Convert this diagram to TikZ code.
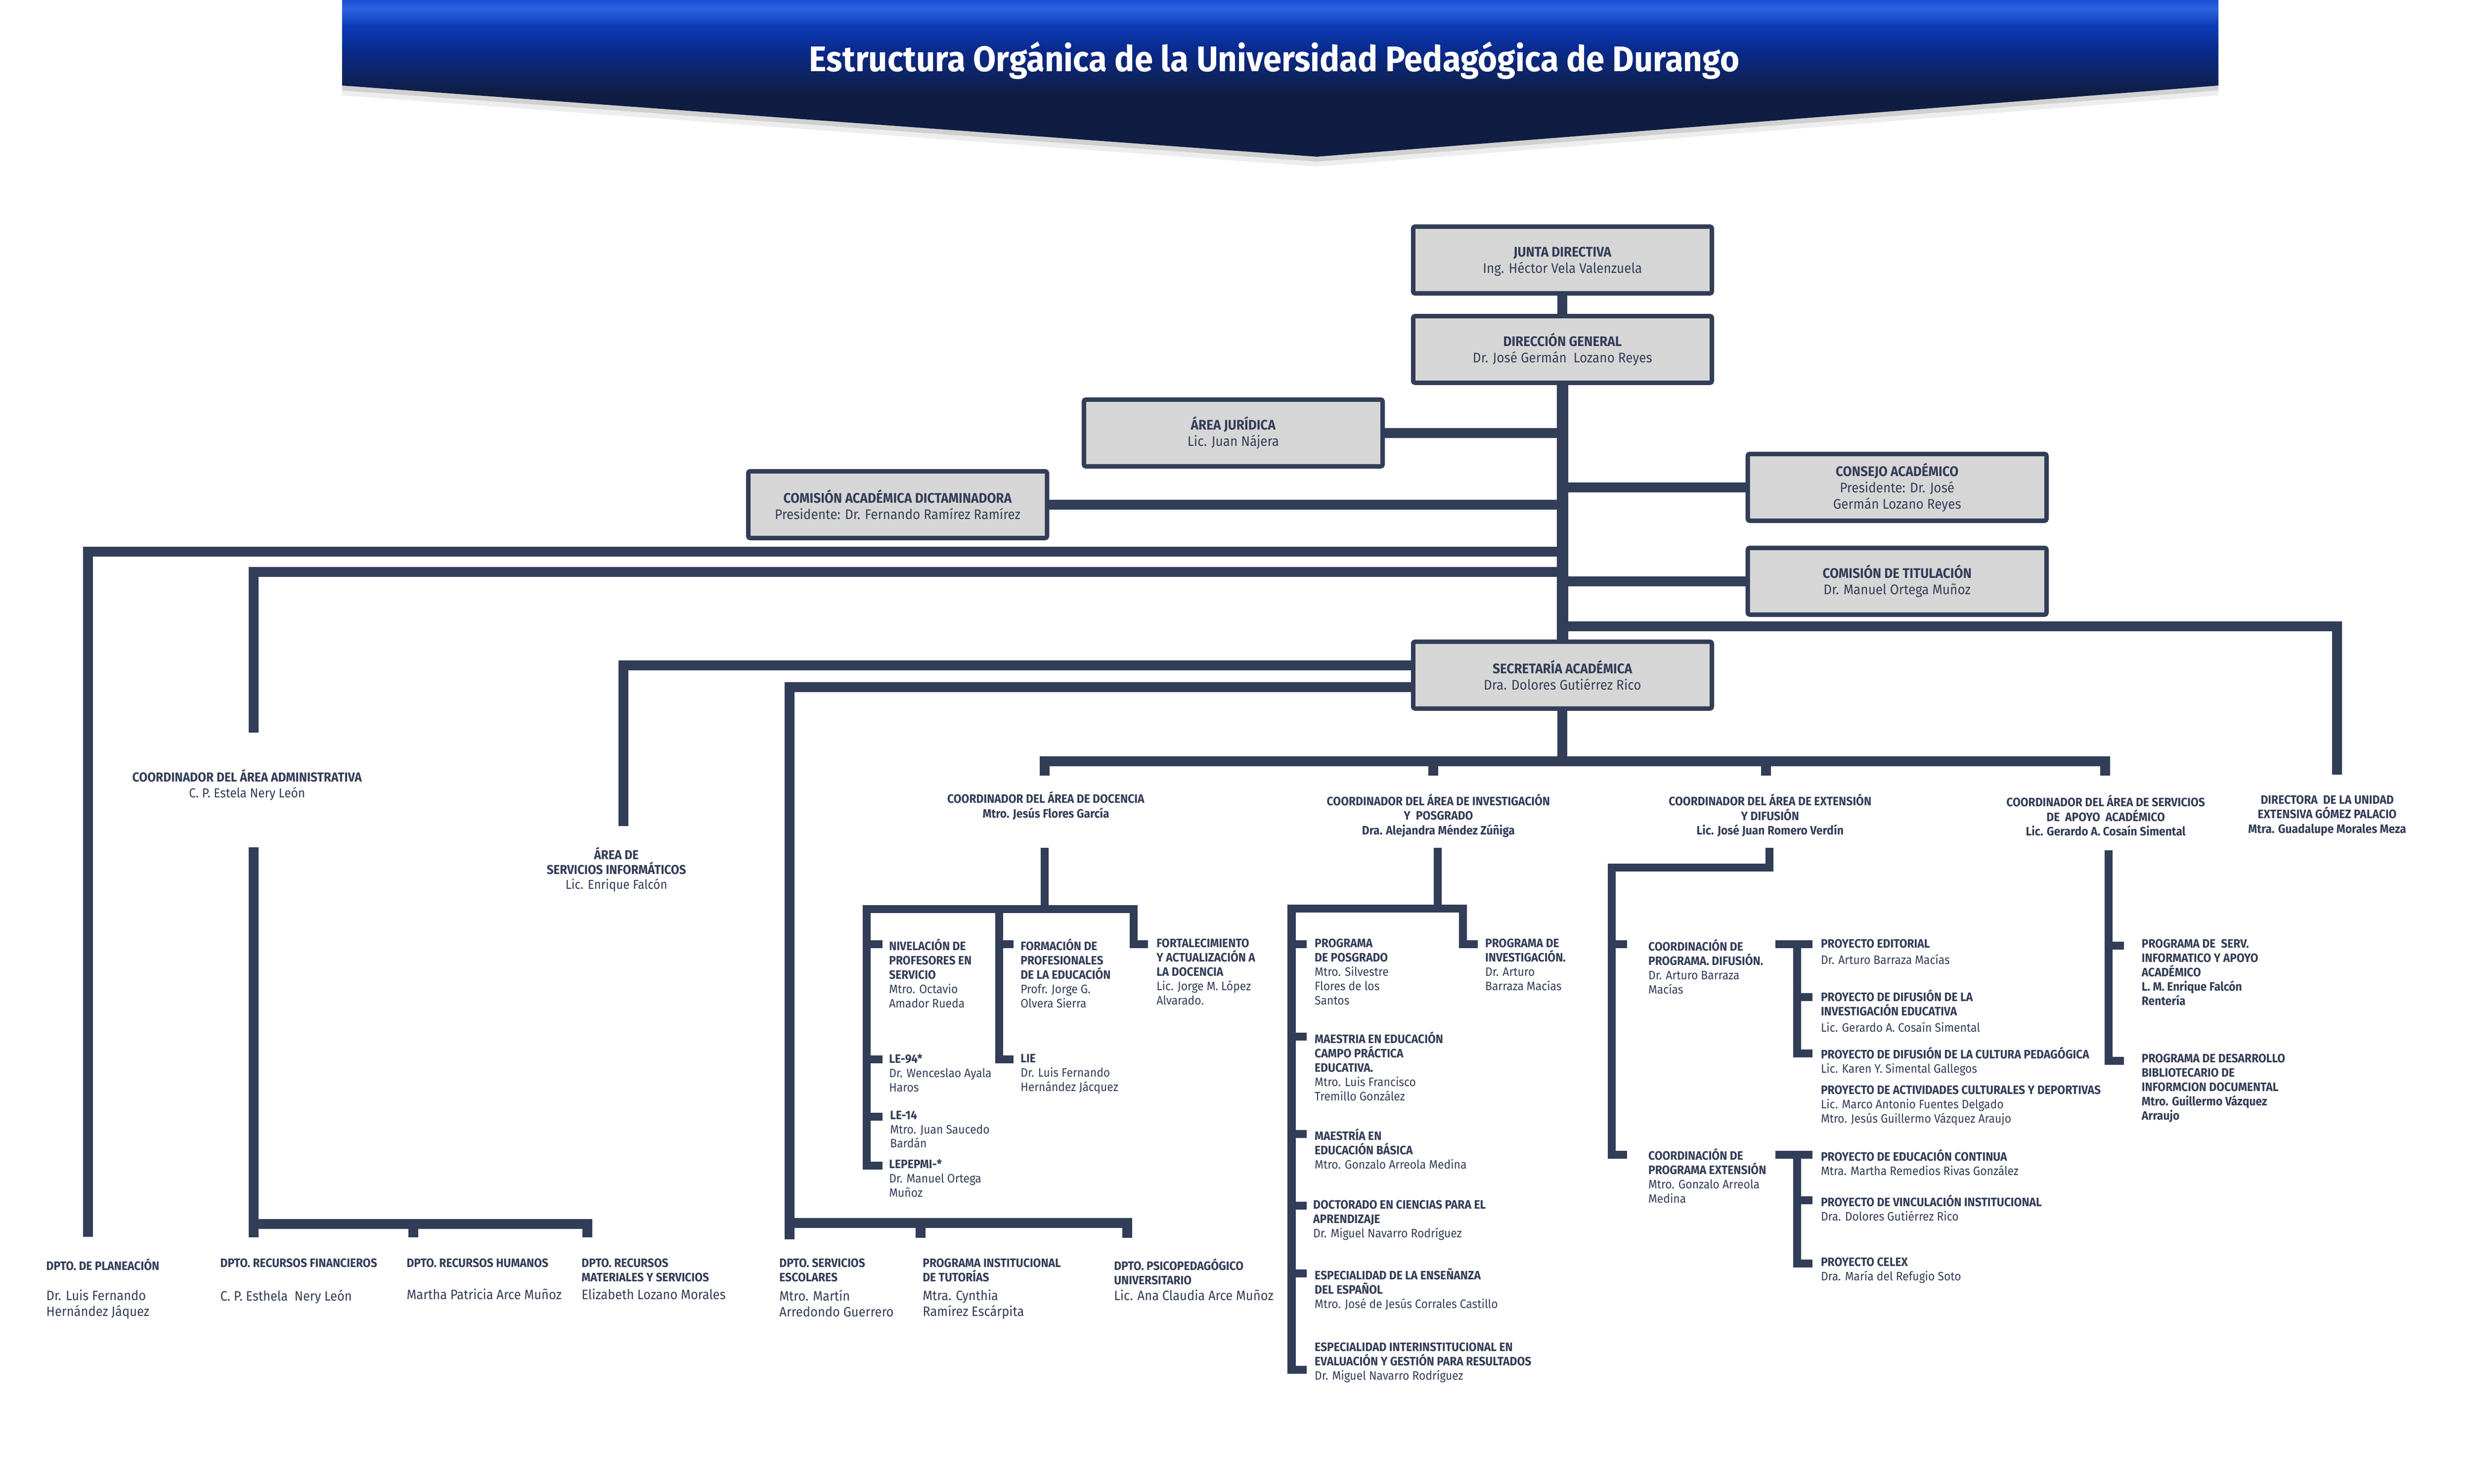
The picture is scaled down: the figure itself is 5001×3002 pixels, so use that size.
\documentclass[tikz,border=0pt]{standalone}
\usepackage{fontspec}
\setmainfont{Fira Sans}[FakeStretch=0.93]

\definecolor{navy}{RGB}{50,61,87}
\definecolor{boxgray}{RGB}{214,214,214}
\definecolor{bannertop}{RGB}{26,79,214}
\definecolor{bannerlight}{RGB}{44,99,223}
\definecolor{bannerblue}{RGB}{12,60,185}
\definecolor{bannermid}{RGB}{10,42,140}
\definecolor{bannerdeep}{RGB}{14,36,98}
\definecolor{bannerbot}{RGB}{16,29,66}

\pgfdeclareverticalshading{titleshade}{100bp}{color(0bp)=(bannerbot); color(45bp)=(bannerbot); color(51bp)=(bannerdeep); color(59bp)=(bannermid); color(67bp)=(bannerblue); color(72bp)=(bannerlight); color(75bp)=(bannertop); color(100bp)=(bannertop)}

\begin{document}
\begin{tikzpicture}[
        x = 0.01cm, y = -0.01cm, % one unit per pixel, y downwards
        line join = miter,
        orgbox/.style = {draw=navy, fill=boxgray, line width=0.09cm, rounded corners=0.04cm,
            minimum width=6.04cm, minimum height=1.35cm, inner sep=0pt, align=center,
            text=navy, font=\fontsize{8}{9.4}\selectfont},
        coordtext/.style = {inner sep=0pt, align=center, text=navy, font=\fontsize{7}{8.4}\selectfont},
        progtext/.style = {inner sep=0pt, align=left, anchor=north west, text=navy, font=\fontsize{7}{8.2}\selectfont},
        nametext/.style = {progtext, font=\fontsize{7.8}{9.2}\selectfont},
        mainline/.style = {draw=navy, line width=0.2cm},
        subline/.style = {draw=navy, line width=0.16cm}
    ]

    \useasboundingbox (0,0) rectangle (5001,3002);

    % title banner
    \fill[black, opacity=0.07] (692,20) -- (4488,20) -- (4488,193) -- (2664,337) -- (692,193) -- cycle;
    \fill[black, opacity=0.12] (692,10) -- (4488,10) -- (4488,183) -- (2664,327) -- (692,183) -- cycle;
    \shade[shading=titleshade] (692,0) -- (4488,0) -- (4488,173) -- (2664,317) -- (692,173) -- cycle;
    \node[text=white, inner sep=0pt, font=\bfseries\fontsize{20.5}{24}\selectfont] (title) at (2578,122)
        {Estructura Orgánica de la Universidad Pedagógica de Durango};

    % boxes
    \node[orgbox] (junta) at (3161,526) {\textbf{\vphantom{Á}JUNTA DIRECTIVA}\\Ing. Héctor Vela Valenzuela};
    \node[orgbox] (dirgen) at (3161,707) {\textbf{DIRECCIÓN GENERAL}\\Dr. José Germán\ \ Lozano Reyes};
    \node[orgbox] (juridica) at (2495,876) {\textbf{ÁREA JURÍDICA}\\Lic. Juan Nájera};
    \node[orgbox] (dictamen) at (1816,1021) {\textbf{COMISIÓN ACADÉMICA DICTAMINADORA}\\Presidente: Dr. Fernando Ramírez Ramírez};
    \node[orgbox] (consejo) at (3838,986) {\textbf{CONSEJO ACADÉMICO}\\Presidente: Dr. José\\Germán Lozano Reyes};
    \node[orgbox] (titulacion) at (3838,1176) {\textbf{COMISIÓN DE TITULACIÓN}\\Dr. Manuel Ortega Muñoz};
    \node[orgbox] (secretaria) at (3161,1366) {\textbf{SECRETARÍA ACADÉMICA}\\Dra. Dolores Gutiérrez Rico};

    \draw[mainline] (junta) -- (dirgen);
    \draw[mainline, line width=0.23cm] (dirgen) -- (secretaria);
    \draw[mainline] (juridica.east) -- (juridica.east -| dirgen);
    \draw[mainline] (dictamen.east) -- (dictamen.east -| dirgen);
    \draw[mainline] (consejo.west) -- (consejo.west -| dirgen);
    \draw[mainline] (titulacion.west) -- (titulacion.west -| dirgen);

    % long branches from the trunk
    \coordinate (jPlan) at (3161,1116);
    \coordinate (jAdm) at (3161,1157);
    \coordinate (jDir) at (3161,1267);
    \coordinate (ePlan) at (178,2502);
    \coordinate (eAdm) at (513,1482);
    \coordinate (eDir) at (4728,1567);
    \draw[mainline] (jPlan) -| (ePlan);
    \draw[mainline] (jAdm) -| (eAdm);
    \draw[mainline] (jDir) -| (eDir);

    % branches of the secretaria
    \coordinate (eInf) at (1261,1671);
    \coordinate (eAcad) at (1597,2507);
    \draw[mainline] ([yshift=0.2cm]secretaria.west) -| (eInf);
    \draw[mainline] ([yshift=-0.24cm]secretaria.west) -| (eAcad);

    \coordinate (sBar) at (3161,1540);
    \coordinate (dDoc) at (2113,1569);
    \coordinate (dInv) at (2900,1569);
    \coordinate (dExt) at (3573,1569);
    \coordinate (dServ) at (4259,1569);
    \draw[mainline] (secretaria) -- (sBar);
    \draw[mainline] (dDoc) |- (sBar) -| (dServ);
    \draw[mainline] (sBar -| dInv) -- (dInv);
    \draw[mainline] (sBar -| dExt) -- (dExt);

    % coordinators
    \node[coordtext, font=\fontsize{7.5}{8.9}\selectfont] (cadm) at (500,1588) {\textbf{COORDINADOR DEL ÁREA ADMINISTRATIVA}\\C. P. Estela Nery León};
    \node[coordtext, font=\fontsize{7.4}{8.6}\selectfont] (cinf) at (1247,1759) {\textbf{ÁREA DE}\\\textbf{SERVICIOS INFORMÁTICOS}\\Lic. Enrique Falcón};
    \node[coordtext] (cdoc) at (2116,1630) {\textbf{COORDINADOR DEL ÁREA DE DOCENCIA}\\\textbf{Mtro. Jesús Flores García}};
    \node[coordtext] (cinv) at (2910,1650) {\textbf{COORDINADOR DEL ÁREA DE INVESTIGACIÓN}\\\textbf{Y\ \ POSGRADO}\\\textbf{Dra. Alejandra Méndez Zúñiga}};
    \node[coordtext] (cext) at (3581,1650) {\textbf{COORDINADOR DEL ÁREA DE EXTENSIÓN}\\\textbf{Y DIFUSIÓN}\\\textbf{Lic. José Juan Romero Verdín}};
    \node[coordtext] (cserv) at (4260,1650) {\textbf{COORDINADOR DEL ÁREA DE SERVICIOS}\\\textbf{DE\ \ APOYO\ \ ACADÉMICO}\\\textbf{Lic. Gerardo A. Cosaín Simental}};
    \node[coordtext] (cdir) at (4708,1650) {\textbf{DIRECTORA\ \ DE LA UNIDAD}\\\textbf{EXTENSIVA GÓMEZ PALACIO}\\\textbf{Mtra. Guadalupe Morales Meza}};

    % administrative departments
    \coordinate (admLow) at (513,1714);
    \coordinate (admBar) at (513,2476);
    \coordinate (dFin) at (513,2503);
    \coordinate (dHum) at (836,2503);
    \coordinate (dMat) at (1188,2503);
    \draw[mainline] (admLow) -- (dFin);
    \draw[mainline] (admBar) -| (dMat);
    \draw[mainline] (admBar -| dHum) -- (dHum);

    % academic departments
    \coordinate (acBar) at (1597,2474);
    \coordinate (dTut) at (1862,2504);
    \coordinate (dPsi) at (2280,2504);
    \draw[mainline] (acBar) -| (dPsi);
    \draw[mainline] (acBar -| dTut) -- (dTut);

    \node[progtext] (plan) at (93,2546) {\textbf{DPTO. DE PLANEACIÓN}};
    \node[nametext] (planN) at (93,2609) {Dr. Luis Fernando\\Hernández Jáquez};
    \node[progtext] (fin) at (445,2546) {\textbf{DPTO. RECURSOS FINANCIEROS}};
    \node[nametext] (finN) at (445,2609) {C. P. Esthela\ \ Nery León};
    \node[progtext] (hum) at (822,2546) {\textbf{DPTO. RECURSOS HUMANOS}};
    \node[nametext] (humN) at (822,2607) {Martha Patricia Arce Muñoz};
    \node[progtext] (mat) at (1176,2546) {\textbf{DPTO. RECURSOS}\\\textbf{MATERIALES Y SERVICIOS}};
    \node[nametext] (matN) at (1176,2607) {Elizabeth Lozano Morales};
    \node[progtext] (esc) at (1576,2546) {\textbf{DPTO. SERVICIOS}\\\textbf{ESCOLARES}};
    \node[nametext] (escN) at (1576,2609) {Mtro. Martín\\Arredondo Guerrero};
    \node[progtext] (tut) at (1866,2546) {\textbf{PROGRAMA INSTITUCIONAL}\\\textbf{DE TUTORÍAS}};
    \node[nametext] (tutN) at (1866,2609) {Mtra. Cynthia\\Ramírez Escárpita};
    \node[progtext] (psi) at (2253,2546) {\textbf{DPTO. PSICOPEDAGÓGICO}\\\textbf{UNIVERSITARIO}};
    \node[nametext] (psiN) at (2253,2609) {Lic. Ana Claudia Arce Muñoz};

    % docencia
    \coordinate (docTop) at (2113,1715);
    \coordinate (docA) at (1753,1839);
    \coordinate (docB) at (2021,1839);
    \coordinate (docC) at (2293,1839);
    \coordinate (tNiv) at (1785,1910);
    \coordinate (tLe94) at (1785,2143);
    \coordinate (tLe14) at (1785,2259);
    \coordinate (tLepe) at (1785,2358);
    \coordinate (tForm) at (2050,1910);
    \coordinate (tLie) at (2050,2143);
    \coordinate (tFort) at (2322,1910);
    \draw[subline] (docTop) -- (docTop |- docA);
    \draw[subline] (tLepe) -| (docA) -- (docC) |- (tFort);
    \draw[subline] (docA |- tNiv) -- (tNiv);
    \draw[subline] (docA |- tLe94) -- (tLe94);
    \draw[subline] (docA |- tLe14) -- (tLe14);
    \draw[subline] (docB) |- (tLie);
    \draw[subline] (docB |- tForm) -- (tForm);

    \node[progtext] (niv) at (1798,1899) {\textbf{NIVELACIÓN DE}\\\textbf{PROFESORES EN}\\\textbf{SERVICIO}\\Mtro. Octavio\\Amador Rueda};
    \node[progtext] (form) at (2064,1899) {\textbf{FORMACIÓN DE}\\\textbf{PROFESIONALES}\\\textbf{DE LA EDUCACIÓN}\\Profr. Jorge G.\\Olvera Sierra};
    \node[progtext] (fort) at (2339,1899) {\textbf{FORTALECIMIENTO}\\\textbf{Y ACTUALIZACIÓN A}\\\textbf{LA DOCENCIA}\\Lic. Jorge M. López\\Alvarado.};
    \node[progtext] (le94) at (1798,2132) {\textbf{LE-94*}\\Dr. Wenceslao Ayala\\Haros};
    \node[progtext] (lie) at (2064,2132) {\textbf{LIE}\\Dr. Luis Fernando\\Hernández Jácquez};
    \node[progtext] (le14) at (1800,2247) {\textbf{LE-14}\\Mtro. Juan Saucedo\\Bardán};
    \node[progtext] (lepe) at (1798,2345) {\textbf{LEPEPMI-*}\\Dr. Manuel Ortega\\Muñoz};

    % investigacion y posgrado
    \coordinate (invTop) at (2909,1715);
    \coordinate (invA) at (2613,1838);
    \coordinate (invB) at (2960,1838);
    \coordinate (tPos) at (2644,1910);
    \coordinate (tMae) at (2644,2097);
    \coordinate (tBas) at (2644,2294);
    \coordinate (tDoct) at (2644,2439);
    \coordinate (tEsp) at (2644,2576);
    \coordinate (tInt) at (2644,2772);
    \coordinate (tPinv) at (2990,1910);
    \draw[subline] (invTop) -- (invTop |- invA);
    \draw[subline] (tInt) -| (invA) -- (invB) |- (tPinv);
    \draw[subline] (invA |- tPos) -- (tPos);
    \draw[subline] (invA |- tMae) -- (tMae);
    \draw[subline] (invA |- tBas) -- (tBas);
    \draw[subline] (invA |- tDoct) -- (tDoct);
    \draw[subline] (invA |- tEsp) -- (tEsp);

    \node[progtext] (pos) at (2659,1899) {\textbf{PROGRAMA}\\\textbf{DE POSGRADO}\\Mtro. Silvestre\\Flores de los\\Santos};
    \node[progtext] (mae) at (2659,2087) {\textbf{MAESTRIA EN EDUCACIÓN}\\\textbf{CAMPO PRÁCTICA}\\\textbf{EDUCATIVA.}\\Mtro. Luis Francisco\\Tremillo González};
    \node[progtext] (bas) at (2659,2283) {\textbf{MAESTRÍA EN}\\\textbf{EDUCACIÓN BÁSICA}\\Mtro. Gonzalo Arreola Medina};
    \node[progtext] (doct) at (2656,2428) {\textbf{DOCTORADO EN CIENCIAS PARA EL}\\\textbf{APRENDIZAJE}\\Dr. Miguel Navarro Rodríguez};
    \node[progtext] (esp) at (2659,2566) {\textbf{ESPECIALIDAD DE LA ENSEÑANZA}\\\textbf{DEL ESPAÑOL}\\Mtro. José de Jesús Corrales Castillo};
    \node[progtext] (int) at (2659,2716) {\textbf{ESPECIALIDAD INTERINSTITUCIONAL EN}\\\textbf{EVALUACIÓN Y GESTIÓN PARA RESULTADOS}\\Dr. Miguel Navarro Rodríguez};
    \node[progtext] (pinv) at (3004,1899) {\textbf{PROGRAMA DE}\\\textbf{INVESTIGACIÓN.}\\Dr. Arturo\\Barraza Macías};

    % extension y difusion
    \coordinate (extTop) at (3580,1715);
    \coordinate (extBend) at (3580,1755);
    \coordinate (extA) at (3261,1755);
    \coordinate (tDif) at (3292,1910);
    \coordinate (tExtn) at (3292,2336);
    \draw[subline] (extTop) -- (extBend) -- (extA) |- (tExtn);
    \draw[subline] (extA |- tDif) -- (tDif);

    \coordinate (brA) at (3592,1910);
    \coordinate (colA) at (3636,1910);
    \coordinate (tEdit) at (3667,1910);
    \coordinate (tInvE) at (3667,2017);
    \coordinate (tCult) at (3667,2131);
    \draw[subline] (brA) -- (tEdit);
    \draw[subline] (colA) |- (tCult);
    \draw[subline] (colA |- tInvE) -- (tInvE);

    \coordinate (brB) at (3592,2336);
    \coordinate (colB) at (3636,2336);
    \coordinate (tCont) at (3667,2336);
    \coordinate (tVinc) at (3667,2428);
    \coordinate (tCelex) at (3667,2556);
    \draw[subline] (brB) -- (tCont);
    \draw[subline] (colB) |- (tCelex);
    \draw[subline] (colB |- tVinc) -- (tVinc);

    \node[progtext] (dif) at (3334,1900) {\textbf{COORDINACIÓN DE}\\\textbf{PROGRAMA. DIFUSIÓN.}\\Dr. Arturo Barraza\\Macías};
    \node[progtext] (extn) at (3334,2323) {\textbf{COORDINACIÓN DE}\\\textbf{PROGRAMA EXTENSIÓN}\\Mtro. Gonzalo Arreola\\Medina};
    \node[progtext] (edit) at (3683,1900) {\textbf{PROYECTO EDITORIAL}\\[1pt]Dr. Arturo Barraza Macías};
    \node[progtext] (inve) at (3683,2002) {\textbf{PROYECTO DE DIFUSIÓN DE LA}\\\textbf{INVESTIGACIÓN EDUCATIVA}\\[1pt]Lic. Gerardo A. Cosaín Simental};
    \node[progtext] (cult) at (3683,2118) {\textbf{PROYECTO DE DIFUSIÓN DE LA CULTURA PEDAGÓGICA}\\Lic. Karen Y. Simental Gallegos};
    \node[progtext] (activ) at (3683,2196) {\textbf{PROYECTO DE ACTIVIDADES CULTURALES Y DEPORTIVAS}\\Lic. Marco Antonio Fuentes Delgado\\Mtro. Jesús Guillermo Vázquez Araujo};
    \node[progtext] (cont) at (3683,2325) {\textbf{PROYECTO DE EDUCACIÓN CONTINUA}\\Mtra. Martha Remedios Rivas González};
    \node[progtext] (vinc) at (3683,2417) {\textbf{PROYECTO DE VINCULACIÓN INSTITUCIONAL}\\Dra. Dolores Gutiérrez Rico};
    \node[progtext] (celex) at (3683,2544) {\textbf{PROYECTO CELEX}\\Dra. María del Refugio Soto};

    % servicios de apoyo academico
    \coordinate (servTop) at (4266,1720);
    \coordinate (tSinf) at (4297,1913);
    \coordinate (tBib) at (4297,2146);
    \draw[subline] (servTop) |- (tBib);
    \draw[subline] (servTop |- tSinf) -- (tSinf);

    \node[progtext] (sinf) at (4332,1900) {\textbf{PROGRAMA DE\ \ SERV.}\\\textbf{INFORMATICO Y APOYO}\\\textbf{ACADÉMICO}\\\textbf{L. M. Enrique Falcón}\\\textbf{Rentería}};
    \node[progtext] (bib) at (4332,2132) {\textbf{PROGRAMA DE DESARROLLO}\\\textbf{BIBLIOTECARIO DE}\\\textbf{INFORMCION DOCUMENTAL}\\\textbf{Mtro. Guillermo Vázquez}\\\textbf{Arraujo}};

\end{tikzpicture}
\end{document}
